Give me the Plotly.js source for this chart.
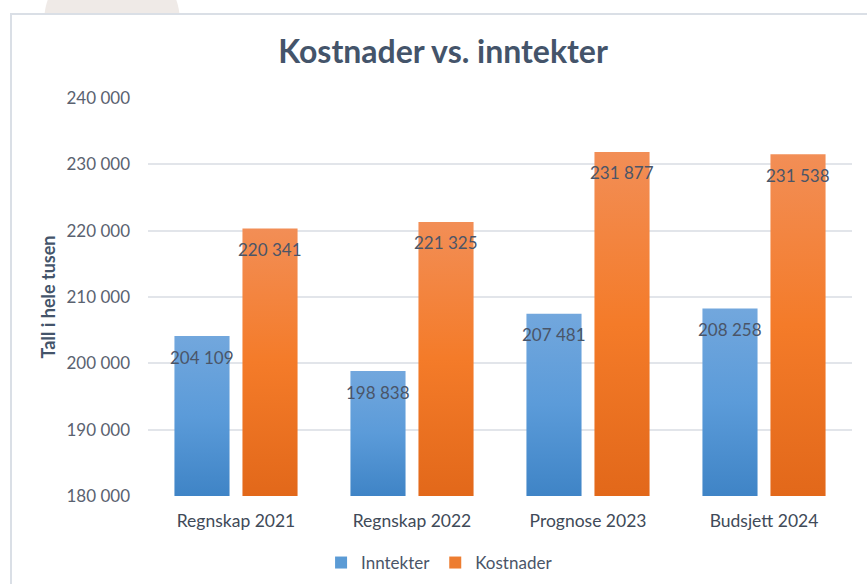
<!DOCTYPE html>
<html>
<head>
<meta charset="utf-8">
<script src="https://cdn.plot.ly/plotly-3.0.1.min.js"></script>
<style>
  html, body { margin: 0; padding: 0; background: #ffffff; overflow: hidden; }
  #deco { position: absolute; left: 44px; top: -46px; width: 136px; height: 136px; border-radius: 50%; background: #efeae7; }
  #box { position: absolute; left: 10px; top: 13px; width: 900px; height: 620px; background: #ffffff; border: 2px solid #dadfe6; }
  #chart { position: absolute; left: 0; top: 0; width: 867px; height: 584px; }
</style>
</head>
<body>
<div id="deco"></div>
<div id="box"></div>
<div id="chart"></div>
<script>
const categories = ["Regnskap 2021", "Regnskap 2022", "Prognose 2023", "Budsjett 2024"];
const inntekter = [204109, 198838, 207481, 208258];
const kostnader = [220341, 221325, 231877, 231538];
const seriesNames = ["Inntekter", "Kostnader"];
const tickVals = [180000, 190000, 200000, 210000, 220000, 230000, 240000];
const tickText = ["180 000", "190 000", "200 000", "210 000", "220 000", "230 000", "240 000"];

const fmt = v => String(v).replace(/\B(?=(\d{3})+(?!\d))/g, " ");
const FONT = "Lato, 'Open Sans', 'Liberation Sans', sans-serif";

const traces = [
  { type: "bar", name: seriesNames[0], x: categories, y: inntekter, marker: { color: "#5b9bd5" }, hoverinfo: "none" },
  { type: "bar", name: seriesNames[1], x: categories, y: kostnader, marker: { color: "#ed7d31" }, hoverinfo: "none" }
];

const annotations = [];
[[inntekter, -34], [kostnader, 34]].forEach(([vals, shift]) => {
  vals.forEach((v, i) => {
    annotations.push({
      x: categories[i], y: v, xref: "x", yref: "y", text: fmt(v),
      showarrow: false, xshift: shift, yshift: -21, yanchor: "middle",
      font: { family: FONT, size: 17, color: "#4a5568" }
    });
  });
});

const layout = {
  width: 867, height: 584,
  paper_bgcolor: "rgba(0,0,0,0)", plot_bgcolor: "rgba(0,0,0,0)",
  margin: { l: 148, r: 15, t: 98, b: 88, autoexpand: false },
  title: { text: "<b>Kostnader vs. inntekter</b>", x: 0.511, xref: "container", y: 0.911, yref: "container", yanchor: "middle", xanchor: "center",
           font: { family: FONT, size: 32, color: "#44546a" } },
  barmode: "group", bargap: 0.227, bargroupgap: 0.19,
  xaxis: { automargin: false, tickfont: { family: FONT, size: 17.5, color: "#404a58" }, showline: false, ticks: "", ticklabelstandoff: 12 },
  yaxis: { automargin: false, range: [180000, 240000], tickvals: tickVals, ticktext: tickText, showline: false, zeroline: false,
           gridcolor: "#e2e5ea", gridwidth: 2, ticks: "", ticklabelstandoff: 17,
           tickfont: { family: FONT, size: 17, color: "#5a6270" },
           title: { text: "<b>Tall i hele tusen</b>", standoff: 6, font: { family: FONT, size: 18, color: "#44546a" } } },
  showlegend: true,
  legend: { orientation: "h", xref: "container", x: 0.507, xanchor: "center", yref: "container", y: 0.036, yanchor: "middle",
            font: { family: FONT, size: 17, color: "#4a5568" }, itemwidth: 30, traceorder: "normal" },
  annotations: annotations
};

Plotly.newPlot("chart", traces, layout, { staticPlot: true, displayModeBar: false }).then(gd => {
  const svg = gd.querySelector("svg.main-svg");
  const ns = "http://www.w3.org/2000/svg";
  const defs = document.createElementNS(ns, "defs");
  svg.insertBefore(defs, svg.firstChild);
  const stopsBySeries = [
    ["#72a7dd", "#5b9bd9", "#3f84c6"],
    ["#f28e56", "#f47b29", "#e2681a"]
  ];
  const plotH = gd._fullLayout._size.h;
  let gid = 0;
  gd.querySelectorAll(".barlayer .trace").forEach((tr, ti) => {
    const stops = stopsBySeries[ti];
    tr.querySelectorAll("path").forEach(p => {
      const bb = p.getBBox();
      const id = "barGrad" + (gid++);
      const lg = document.createElementNS(ns, "linearGradient");
      lg.setAttribute("id", id);
      lg.setAttribute("gradientUnits", "userSpaceOnUse");
      lg.setAttribute("x1", "0"); lg.setAttribute("x2", "0");
      lg.setAttribute("y1", String(bb.y));
      lg.setAttribute("y2", String(Math.min(plotH, bb.y + bb.height)));
      stops.forEach((c, k) => {
        const s = document.createElementNS(ns, "stop");
        s.setAttribute("offset", String(k / (stops.length - 1)));
        s.setAttribute("stop-color", c);
        lg.appendChild(s);
      });
      defs.appendChild(lg);
      p.style.setProperty("fill", "url(#" + id + ")", "important");
      p.style.stroke = "none";
    });
  });
});
</script>
</body>
</html>
